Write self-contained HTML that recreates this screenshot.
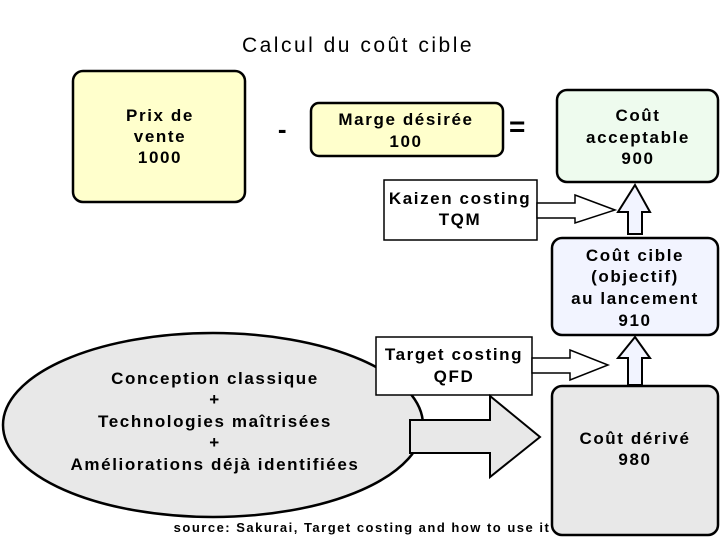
<!DOCTYPE html>
<html><head><meta charset="utf-8"><style>
body{margin:0;width:720px;height:540px;background:#fff;overflow:hidden}
svg text{font-family:"Liberation Sans",Arial,sans-serif;font-weight:bold;fill:#000}
</style></head><body>
<svg width="720" height="540" viewBox="0 0 720 540" xmlns="http://www.w3.org/2000/svg">
<text x="358" y="52" font-size="21" text-anchor="middle" letter-spacing="2.5" style="font-weight:normal">Calcul du coût cible</text>
<g stroke="#000" stroke-width="2.5">
<rect x="73" y="71" width="172" height="131" rx="10" fill="#ffffcc"/>
<rect x="311" y="103" width="192" height="53" rx="8" fill="#ffffcc"/>
<rect x="557" y="90" width="161" height="92" rx="10" fill="#eefbee"/>
<rect x="552" y="238" width="166" height="97" rx="10" fill="#f2f4ff"/>
<rect x="552" y="386" width="166" height="149" rx="10" fill="#e8e8e8"/>
<ellipse cx="213" cy="425" rx="210" ry="92" fill="#e8e8e8"/>
</g>
<g stroke="#000" stroke-width="1.5" fill="#fff">
<rect x="384" y="180" width="153" height="60"/>
<rect x="376" y="337" width="156" height="58"/>
<polygon points="537,203 575,203 575,195 615,210 575,223 575,218 537,218"/>
<polygon points="532,358 570,358 570,350 608,365 570,380 570,373 532,373"/>
</g>
<g stroke="#000" stroke-width="2" fill="#f2f4ff">
<polygon points="635,185 650,212 642,212 642,234 628,234 628,212 618,212"/>
<polygon points="635,337 650,358 642,358 642,385 628,385 628,358 618,358"/>
</g>
<polygon points="410,420 490,420 490,396 540,437 490,477 490,453 410,453" fill="#e8e8e8" stroke="#000" stroke-width="2"/>
<g font-size="17" text-anchor="middle" letter-spacing="1.6">
<text x="160" y="121">Prix de</text><text x="160" y="142">vente</text><text x="160" y="163">1000</text>
<text x="283" y="138" font-size="26">-</text>
<text x="406" y="125">Marge désirée</text><text x="406" y="147">100</text>
<text x="518" y="136" font-size="28">=</text>
<text x="638" y="121">Coût</text><text x="638" y="143">acceptable</text><text x="638" y="164">900</text>
<text x="460" y="204">Kaizen costing</text><text x="460" y="225">TQM</text>
<text x="635" y="261">Coût cible</text><text x="635" y="282">(objectif)</text><text x="635" y="304">au lancement</text><text x="635" y="326">910</text>
<text x="454" y="360">Target costing</text><text x="454" y="382">QFD</text>
<text x="215" y="384">Conception classique</text><text x="215" y="405">+</text>
<text x="215" y="427">Technologies maîtrisées</text><text x="215" y="448">+</text>
<text x="215" y="470">Améliorations déjà identifiées</text>
<text x="635" y="444">Coût dérivé</text><text x="635" y="465">980</text>
<text x="362" y="532" font-size="13" letter-spacing="1.5">source: Sakurai, Target costing and how to use it</text>
</g>
</svg>
</body></html>
